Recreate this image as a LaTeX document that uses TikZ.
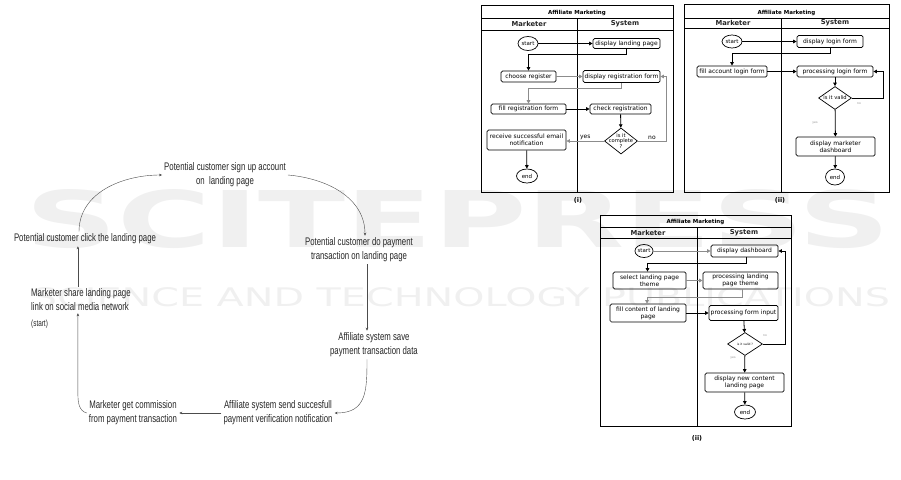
\documentclass[tikz,border=0pt]{standalone}
\usepackage{fontspec}
\setmainfont{Liberation Sans}
\newfontfamily\narrowfont[FakeStretch=0.71]{Liberation Sans}
\newfontfamily\umlfont{DejaVu Sans}
\usetikzlibrary{shapes.geometric,arrows.meta}

\tikzset{
  lane/.style={line width=0.6pt},
  act/.style={draw, rounded corners=1.5pt, line width=0.7pt, inner sep=0pt, align=center,
    font=\umlfont\fontsize{6}{7}\selectfont},
  term/.style={draw, ellipse, line width=0.7pt, inner sep=0pt,
    font=\umlfont\fontsize{5.5}{6}\selectfont},
  dec/.style={draw, diamond, line width=0.7pt, inner sep=0pt},
  decl/.style={align=center, inner sep=0pt, font=\umlfont\fontsize{5.2}{5.6}\selectfont},
  flow/.style={line width=0.8pt, -{Triangle[length=3.5pt,width=3.5pt]}},
  flowg/.style={flow, draw=black!45},
  lanehead/.style={font=\umlfont\bfseries\fontsize{6.8}{8}\selectfont, text=black!85},
  ttl/.style={font=\umlfont\bfseries\fontsize{5.5}{6}\selectfont},
  tinylbl/.style={text=black!45, font=\umlfont\fontsize{3}{3}\selectfont},
  capt/.style={font=\umlfont\bfseries\fontsize{6.5}{7}\selectfont},
  stepnode/.style={align=center, inner sep=2pt, text=black!85,
    font=\narrowfont\fontsize{11}{14}\selectfont},
  cyc/.style={draw=black!70, line width=0.4pt, -{Stealth[length=3pt,width=2.6pt]}}
}

\begin{document}
\begin{tikzpicture}[x=1pt, y=-1pt]
    \useasboundingbox (0,0) rectangle (901,479);

    % 0. Watermark
    \node[text=black!6, inner sep=0pt] (wm1) at (458,219)
      {\resizebox{864pt}{58pt}{\umlfont\bfseries SCITEPRESS}};
    \node[text=black!6, inner sep=0pt] (wm2) at (461,297)
      {\resizebox{858pt}{19pt}{\umlfont SCIENCE AND TECHNOLOGY PUBLICATIONS}};

    % 1. Cycle steps
    \node[stepnode] (n1) at (225,175) {Potential customer sign up account\\on~ landing page};
    \node[stepnode] (n2) at (85,239) {Potential customer click the landing page};
    \node[stepnode] (n3) at (359,250) {Potential customer do payment\\transaction on landing page};
    \node[stepnode, align=left, anchor=west] (n4) at (29,300) {Marketer share landing page\\link on social media network};
    \node[stepnode, anchor=west, font=\narrowfont\fontsize{9}{10}\selectfont] (n4s) at (29,324) {(start)};
    \node[stepnode] (n5) at (374,345) {Affiliate system save\\payment transaction data};
    \node[stepnode] (n6) at (133,413) {Marketer get commission\\from payment transaction};
    \node[stepnode] (n7) at (278,413) {Affiliate system send succesfull\\payment verification notification};

    % 2. Cycle arrows
    \coordinate (p3) at ([xshift=8pt]n3.south);
    \coordinate (p5) at ([xshift=-7pt]n5.south);
    \coordinate (p4) at ([xshift=-3pt]n4.south);
    \coordinate (q4) at ([xshift=-3pt]n4.north);
    \coordinate (k6) at (0,394);
    \draw[cyc] ([xshift=-6pt]n2.north) to[out=90,in=180] (n1.west);
    \draw[cyc] (n1.east) to[out=-5,in=90] ([xshift=6pt]n3.north);
    \draw[cyc] (p3) -- (p3 |- n5.north);
    \draw[cyc] (p5) to[out=-90,in=0,looseness=1.3] (n7.east);
    \draw[cyc] (n7.west) -- (n6.east);
    \draw[cyc] (n6.west) to[out=165,in=-90] (p4 |- k6) -- (p4);
    \draw[cyc] (q4) -- (q4 |- n2.south);

    % 3. Diagram (i): register
    \draw[lane] (481,5) rectangle (673,192);
    \draw[lane] (481,18) -- (673,18);
    \draw[lane] (481,30) -- (673,30);
    \draw[lane] (577,18) -- (577,192);
    \node[ttl] at (577,13) {Affiliate Marketing};
    \node[lanehead] at (529,24) {Marketer};
    \node[lanehead] at (625,24) {System};

    \node[term, minimum width=20pt, minimum height=14pt] (s1) at (528,43.5) {start};
    \node[act, minimum width=67pt, minimum height=10pt] (a1) at (626.5,43.5) {display landing page};
    \node[act, minimum width=55pt, minimum height=11pt] (b1) at (528.5,76.5) {choose register};
    \node[act, minimum width=77pt, minimum height=12pt] (c1) at (621.5,76.5) {display registration form};
    \node[act, minimum width=75pt, minimum height=10pt] (d1) at (528.5,109) {fill registration form};
    \node[act, minimum width=61pt, minimum height=10pt] (e1) at (620.5,109) {check registration};
    \node[dec, minimum width=33pt, minimum height=26pt,
      label={[decl]center:is it\\complete\\?}] (q1) at (621,141) {};
    \node[act, minimum width=79pt, minimum height=20pt] (f1) at (526.5,140) {receive successful email\\notification};
    \node[term, minimum width=21pt, minimum height=14pt] (t1) at (527,176) {end};
    \coordinate (r1) at (666,0);

    \draw[flow] (s1) -- (a1);
    \draw[flow] (a1.south) -- ++(0,6) -| (b1.north);
    \draw[flowg] (b1) -- (c1);
    \draw[flowg] (c1.south) -- ++(0,6) -| (d1.north);
    \draw[flow] (d1) -- (e1);
    \draw[flow] (e1) -- (q1);
    \draw[flowg] (q1.west) -- node[above, decl, yshift=1pt, font=\umlfont\fontsize{6}{6}\selectfont] {yes} (q1.west -| f1.east);
    \draw[flowg] (q1.east) -- node[above, decl, yshift=1pt, font=\umlfont\fontsize{6}{6}\selectfont] {no} (q1.east -| r1) |- (c1.east);
    \draw[flow] (f1) -- (t1);
    \node[capt] at (578,200) {(i)};

    % 4. Diagram (ii): login
    \draw[lane] (684,4) rectangle (889,192);
    \draw[lane] (684,18) -- (889,18);
    \draw[lane] (684,28) -- (889,28);
    \draw[lane] (781,18) -- (781,192);
    \node[ttl] at (786.5,13) {Affiliate Marketing};
    \node[lanehead] at (733,23) {Marketer};
    \node[lanehead] at (835,23) {System};

    \node[term, minimum width=20pt, minimum height=13pt] (s2) at (732,41.5) {start};
    \node[act, minimum width=66pt, minimum height=12pt] (a2) at (830,41.5) {display login form};
    \node[act, minimum width=70pt, minimum height=11pt] (b2) at (732,71.5) {fill account login form};
    \node[act, minimum width=76pt, minimum height=11pt] (c2) at (835,71.5) {processing login form};
    \node[dec, minimum width=33pt, minimum height=23pt,
      label={[decl]center:is it valid}] (q2) at (835,98) {};
    \node[act, minimum width=79pt, minimum height=19pt] (f2) at (835.5,146.5) {display marketer\\dashboard};
    \node[term, minimum width=19pt, minimum height=16pt] (t2) at (835,177) {end};
    \coordinate (r2) at (883,0);

    \draw[flow] (s2) -- (a2);
    \draw[flow] (a2.south) -- ++(0,6) -| (b2.north);
    \draw[flow] (b2) -- (c2);
    \draw[flow] (c2) -- (q2);
    \draw[flow] (q2.east) -- (q2.east -| r2) |- (c2.east);
    \draw[flow] (q2) -- (f2);
    \draw[flow] (f2) -- (t2);
    \node[tinylbl] at (859,104) {no};
    \node[tinylbl] at (815,123) {yes};
    \node[capt] at (780,200) {(ii)};

    % 5. Diagram (ii): landing page
    \draw[lane] (600,215) rectangle (791,426);
    \draw[lane] (600,227) -- (791,227);
    \draw[lane] (600,238) -- (791,238);
    \draw[lane] (697,227) -- (697,426);
    \node[ttl] at (695.5,222) {Affiliate Marketing};
    \node[lanehead] at (648,233) {Marketer};
    \node[lanehead] at (744,233) {System};

    \node[term, minimum width=18pt, minimum height=13pt] (s3) at (644,251) {start};
    \node[act, minimum width=67pt, minimum height=12pt] (a3) at (744.5,251) {display dashboard};
    \node[act, minimum width=73pt, minimum height=17pt] (b3) at (649.5,280.5) {select landing page\\theme};
    \node[act, minimum width=75pt, minimum height=17pt] (c3) at (740.5,280.5) {processing landing\\page theme};
    \node[act, minimum width=76pt, minimum height=18pt] (d3) at (648,313) {fill content of landing\\page};
    \node[act, minimum width=69pt, minimum height=15pt] (e3) at (743.5,313) {processing form input};
    \node[dec, minimum width=35pt, minimum height=23pt,
      label={[decl, font=\umlfont\fontsize{3}{3}\selectfont]center:is it valid ?}] (q3) at (745,344) {};
    \node[act, minimum width=79pt, minimum height=19pt] (f3) at (744.5,382.5) {display new content\\landing page};
    \node[term, minimum width=21pt, minimum height=14pt] (t3) at (745,412) {end};
    \coordinate (r3) at (785,0);

    \draw[flowg] (s3) -- (a3);
    \draw[flow] ([xshift=2pt]a3.south) -- ++(0,6) -| ([xshift=-2pt]b3.north);
    \draw[flowg] (b3) -- (c3);
    \draw[flowg] ([xshift=1.5pt]c3.south) -- ++(0,8) -| ([xshift=-1pt]d3.north);
    \draw[flow] (d3) -- (e3);
    \draw[flow] (e3) -- (q3);
    \draw[flow] (q3.east) -- (q3.east -| r3) |- (a3.east);
    \draw[flow] (q3) -- (f3);
    \draw[flow] (f3) -- (t3);
    \node[tinylbl] at (765,336) {no};
    \node[tinylbl] at (733,358) {yes};
    \node[capt] at (697,438) {(ii)};

\end{tikzpicture}
\end{document}
